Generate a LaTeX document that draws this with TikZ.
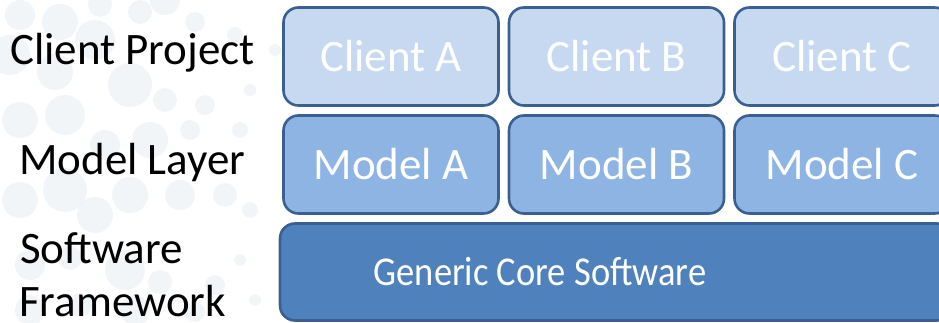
\documentclass[tikz,border=0pt]{standalone}
\usepackage{fontspec}
\setmainfont{Carlito}
\usetikzlibrary{positioning}
\definecolor{rahmen}{HTML}{3B5F8E}
\definecolor{clientfill}{HTML}{C6D9F1}
\definecolor{modelfill}{HTML}{8EB4E3}
\definecolor{corefill}{HTML}{4F81BD}
\definecolor{blase}{HTML}{E6ECF0}

\tikzset{
  schicht/.style={draw=rahmen, line width=2.6pt, rounded corners=15pt, text=white,
    inner sep=0pt, font=\fontsize{45}{54}\selectfont},
  clientbox/.style={schicht, fill=clientfill, minimum width=215pt, minimum height=98pt},
  modelbox/.style={schicht, fill=modelfill, minimum width=215pt, minimum height=98pt},
  corebox/.style={schicht, fill=corefill, minimum width=672pt, minimum height=97pt},
  ebene/.style={anchor=base west, inner sep=0pt, font=\fontsize{45}{54}\selectfont}
}

\begin{document}
\begin{tikzpicture}[x=1pt, y=-1pt] % 1 Einheit = 1 Pixel, y nach unten
\useasboundingbox (0,0) rectangle (939,323);
\clip (0,0) rectangle (939,323);

% Hintergrund-Blasen
\foreach \bx/\by/\br in {20/15/15, 60/22/18, 100/5/12, 140/12/12, 165/0/15, 195/22/10, 235/35/8,
  275/50/6, 10/55/20, 55/72/18, 95/40/20, 130/85/22, 165/100/12, 205/105/10, 240/130/8, 250/90/6,
  20/120/18, 65/115/20, 105/145/15, 150/140/18, 190/130/10, 20/200/18, 65/190/22, 95/215/18,
  130/195/18, 180/195/15, 225/195/12, 250/210/8, 30/265/15, 70/258/12, 125/270/20, 160/282/12,
  215/285/10, 240/260/6, 30/310/15, 80/305/12, 135/310/15, 195/312/10, 255/300/6} {
  \fill[blase, opacity=0.55] (\bx,\by) circle (\br);
}

% Schichten
\foreach \n/\cx in {A/391, B/616.5, C/842} {
  \node[clientbox] (client\n) at (\cx,56.5) {Client \n}; % obere Reihe
  \node[modelbox] (model\n) at (\cx,164.5) {Model \n}; % mittlere Reihe
}
\node[corebox] (core) at (616,272) {};
\node[text=white, xscale=0.89, font=\fontsize{41}{48}\selectfont] (coretext) at (540,272) {Generic Core Software};

% Beschriftung links
\node[ebene] (lclient) at (10,65) {Client Project};
\node[ebene] (lmodel) at (19,175) {Model Layer};
\node[ebene] (lsoft) at (20,263) {Software};
\node[ebene] (lframe) at (19,316) {Framework};

\end{tikzpicture}
\end{document}
